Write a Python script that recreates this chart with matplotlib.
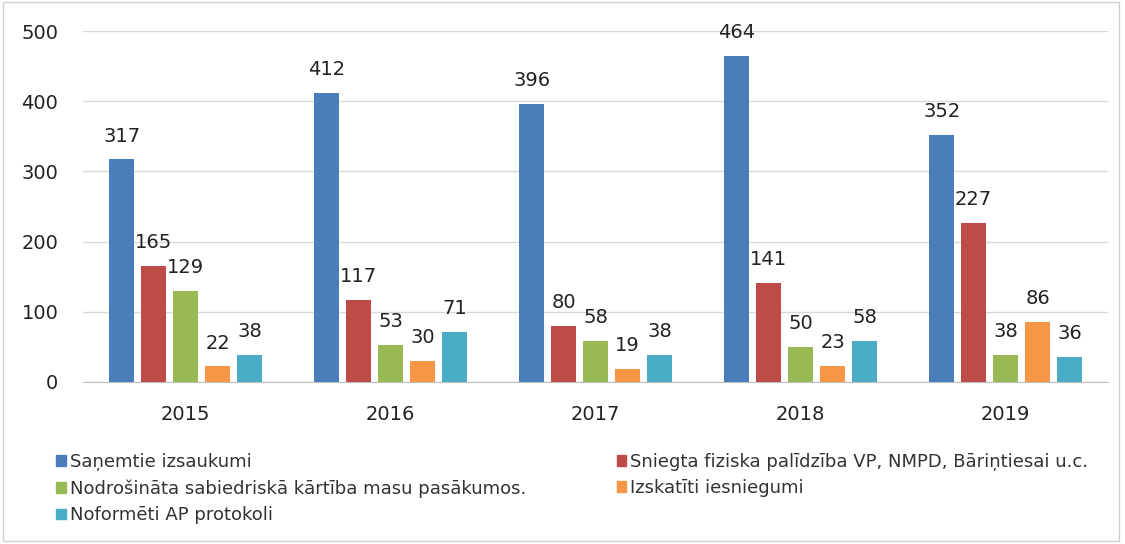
import matplotlib
matplotlib.use("Agg")
import matplotlib.pyplot as plt
import numpy as np
from matplotlib.patches import Rectangle, Patch

years = ["2015", "2016", "2017", "2018", "2019"]
series_names = [
    "Saņemtie izsaukumi",
    "Sniegta fiziska palīdzība VP, NMPD, Bāriņtiesai u.c.",
    "Nodrošināta sabiedriskā kārtība masu pasākumos.",
    "Izskatīti iesniegumi",
    "Noformēti AP protokoli",
]
sanemtie = [317, 412, 396, 464, 352]
sniegta = [165, 117, 80, 141, 227]
nodrosinata = [129, 53, 58, 50, 38]
izskatiti = [22, 30, 19, 23, 86]
noformeti = [38, 71, 38, 58, 36]
values = [sanemtie, sniegta, nodrosinata, izskatiti, noformeti]
colors = ["#4A7EBB", "#BE4B48", "#98B954", "#F79646", "#4BACC6"]
yticks = [0, 100, 200, 300, 400, 500]

plt.rcParams['font.family'] = ['DejaVu Sans']
fig = plt.figure(figsize=(11.25, 5.44), dpi=100)
ax = fig.add_axes([0.074, 0.298, 0.911, 0.645])

x = np.arange(len(years))
step = 0.156
width = 0.122
for i, (vals, c) in enumerate(zip(values, colors)):
    pos = x + (i - 2) * step
    bars = ax.bar(pos, vals, width=width, color=c, zorder=3)
    for b, v in zip(bars, vals):
        ax.annotate(str(v), (b.get_x() + b.get_width() / 2, v), xytext=(0, 10),
                    textcoords="offset points", ha="center", va="bottom",
                    fontsize=14, color="#222222")

ax.set_xlim(-0.5, 4.5)
ax.set_ylim(0, 500)
ax.set_yticks(yticks)
ax.set_xticks(x)
ax.set_xticklabels(years)
ax.tick_params(axis="both", length=0, labelsize=14, colors="#222222")
ax.tick_params(axis="y", pad=18)
ax.tick_params(axis="x", pad=17)
ax.grid(axis="y", color="#D9D9D9", linewidth=1, zorder=0)
for s in ["top", "right", "left"]:
    ax.spines[s].set_visible(False)
ax.spines["bottom"].set_color("#BFBFBF")

handles = [Patch(color=c) for c in colors]
common = dict(loc="upper left", frameon=False, fontsize=13, handlelength=0.55,
              handleheight=0.55, handletextpad=0.2, labelspacing=0.48,
              borderaxespad=0, borderpad=0, labelcolor="#333333")
leg1 = fig.legend([handles[0], handles[2], handles[4]],
                  [series_names[0], series_names[2], series_names[4]],
                  bbox_to_anchor=(0.05, 0.168), **common)
leg2 = fig.legend([handles[1], handles[3]],
                  [series_names[1], series_names[3]],
                  bbox_to_anchor=(0.548, 0.168), **common)

fig.patches.append(Rectangle((0.003, 0.006), 0.992, 0.99, transform=fig.transFigure,
                             fill=False, edgecolor="#D0D0D0", linewidth=1))

fig.savefig("out.png", dpi=100)
